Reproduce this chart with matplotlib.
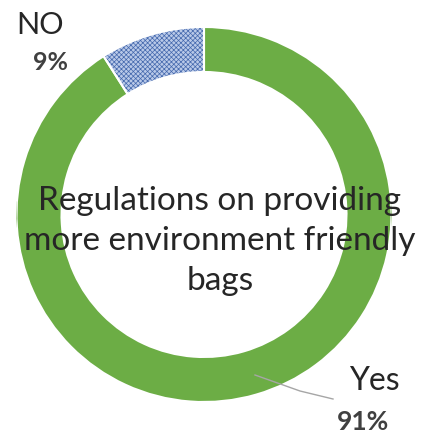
import matplotlib
matplotlib.use("Agg")
import matplotlib.pyplot as plt
from matplotlib.patches import Wedge

categories = ["Yes", "NO"]
shares = [91, 9]
pct_labels = ["91%", "9%"]
title = "Regulations on providing\nmore environment friendly\nbags"

W, H = 427, 434
fig = plt.figure(figsize=(W / 100, H / 100), dpi=100)
fig.patch.set_facecolor("white")

cx, cy, r = 204, 214.5, 187.5
ax = fig.add_axes([(cx - r) / W, (H - cy - r) / H, 2 * r / W, 2 * r / H])
ax.axis("off")

ring = 0.24
green = "#6cad45"
blue_bg = "#b9c9e8"
blue_hatch = "#4468ad"
plt.rcParams["hatch.linewidth"] = 0.5

wedges, _ = ax.pie(shares, startangle=90, counterclock=False, radius=1.0,
                   colors=[green, blue_bg],
                   wedgeprops=dict(width=ring, linewidth=0))
ax.set_xlim(-1, 1)
ax.set_ylim(-1, 1)

# hatched overlay for the "NO" slice
no = wedges[1]
hatch = Wedge(no.center, no.r, no.theta1, no.theta2, width=ring,
              facecolor="none", edgecolor=blue_hatch, linewidth=0,
              hatch="xxxxxxx")
ax.add_patch(hatch)

# white separators between slices
for w in wedges:
    ax.add_patch(Wedge(w.center, w.r, w.theta1, w.theta2, width=ring,
                       facecolor="none", edgecolor="white", linewidth=1.5))

font = "Lato"
txt_col = "#262626"
ax.text(0.085, -0.14, title, ha="center", va="center", fontsize=24,
        family=font, color=txt_col, linespacing=1.42)

# slice labels
def px(x, y):
    return ((x - cx) / r, (cy - y) / r)

ax.text(*px(40, 25), categories[1], ha="center", va="center", fontsize=22,
        family=font, color=txt_col)
ax.text(*px(51, 63), pct_labels[1], ha="center", va="center", fontsize=18,
        family=font, weight="bold", color="#404040")
ax.text(*px(374, 381), categories[0], ha="center", va="center", fontsize=23,
        family=font, color=txt_col)
ax.text(*px(363, 422), pct_labels[0], ha="center", va="center", fontsize=19,
        family=font, weight="bold", color="#404040")

# leader line for "Yes"
lx, ly = zip(px(255, 375), px(300, 391), px(333, 399))
ax.plot(lx, ly, color="#a6a6a6", linewidth=1.0, clip_on=False)

fig.savefig("out.png", dpi=100, facecolor="white")
